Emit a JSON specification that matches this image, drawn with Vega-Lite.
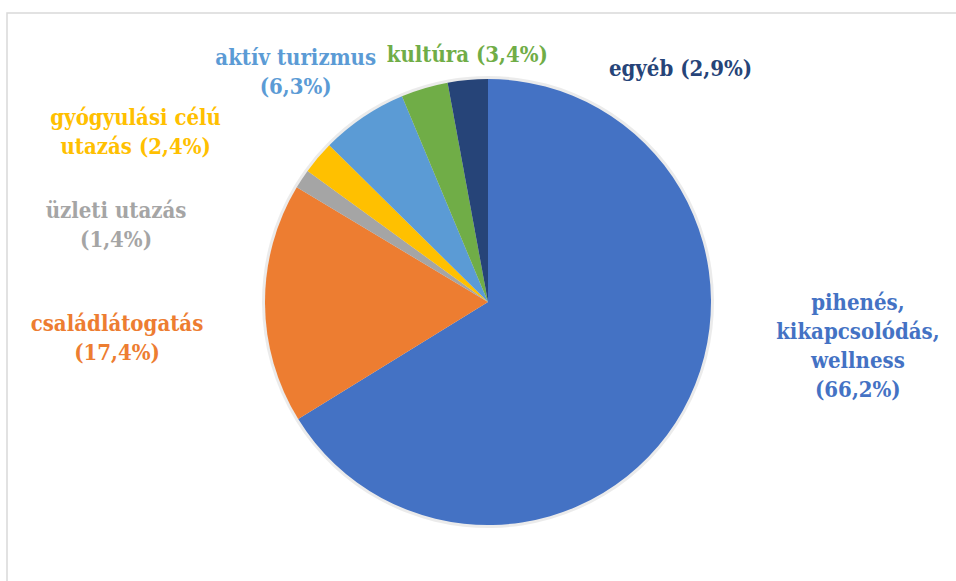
{
  "$schema": "https://vega.github.io/schema/vega-lite/v6.json",
  "width": 962,
  "height": 578,
  "autosize": {"type": "none"},
  "padding": {"left": 7, "top": 13, "right": 0, "bottom": 0},
  "background": "white",
  "view": {"stroke": "#d9d9d9", "strokeWidth": 1.5, "fill": "white"},
  "config": {"text": {"font": "DejaVu Serif Condensed", "fontWeight": "bold", "fontSize": 22, "lineHeight": 29, "lineBreak": "\n", "align": "center", "baseline": "middle"}},
  "data": {"values": [
    {"idx": 1, "cat": "pihenés, kikapcsolódás, wellness", "value": 66.2, "label": "pihenés,\nkikapcsolódás,\nwellness\n(66,2%)"},
    {"idx": 2, "cat": "családlátogatás", "value": 17.4, "label": "családlátogatás\n(17,4%)"},
    {"idx": 3, "cat": "üzleti utazás", "value": 1.4, "label": "üzleti utazás\n(1,4%)"},
    {"idx": 4, "cat": "gyógyulási célú utazás", "value": 2.4, "label": "gyógyulási célú\nutazás (2,4%)"},
    {"idx": 5, "cat": "aktív turizmus", "value": 6.3, "label": "aktív turizmus\n(6,3%)"},
    {"idx": 6, "cat": "kultúra", "value": 3.4, "label": "kultúra (3,4%)"},
    {"idx": 7, "cat": "egyéb", "value": 2.9, "label": "egyéb (2,9%)"}
  ]},
  "encoding": {
    "theta": {"field": "value", "type": "quantitative", "stack": true},
    "order": {"field": "idx", "type": "ordinal"},
    "color": {"field": "cat", "type": "nominal", "legend": null,
      "scale": {"domain": ["pihenés, kikapcsolódás, wellness", "családlátogatás", "üzleti utazás", "gyógyulási célú utazás", "aktív turizmus", "kultúra", "egyéb"],
                "range": ["#4472C4", "#ED7D31", "#A5A5A5", "#FFC000", "#5B9BD5", "#70AD47", "#264478"]}}
  },
  "layer": [
    {"mark": {"type": "arc", "radius": 226, "fill": "#000000", "fillOpacity": 0.08}},
    {"mark": {"type": "arc", "radius": 223}},
    {"mark": {"type": "text", "radius": 372, "dx": 45, "dy": -180},
     "encoding": {"text": {"condition": {"test": "datum.idx === 1", "field": "label"}, "value": ""}}},
    {"mark": {"type": "text", "radius": 372, "dx": 1, "dy": 20},
     "encoding": {"text": {"condition": {"test": "datum.idx === 2", "field": "label"}, "value": ""}}},
    {"mark": {"type": "text", "radius": 380, "dx": -55, "dy": 119},
     "encoding": {"text": {"condition": {"test": "datum.idx === 3", "field": "label"}, "value": ""}}},
    {"mark": {"type": "text", "radius": 390, "dx": -55, "dy": 68},
     "encoding": {"text": {"condition": {"test": "datum.idx === 4", "field": "label"}, "value": ""}}},
    {"mark": {"type": "text", "radius": 299, "dx": -25, "dy": 4},
     "encoding": {"text": {"condition": {"test": "datum.idx === 5", "field": "label"}, "value": ""}}},
    {"mark": {"type": "text", "radius": 248, "dx": 50, "dy": -9},
     "encoding": {"text": {"condition": {"test": "datum.idx === 6", "field": "label"}, "value": ""}}},
    {"mark": {"type": "text", "radius": 302, "dx": 220, "dy": 68},
     "encoding": {"text": {"condition": {"test": "datum.idx === 7", "field": "label"}, "value": ""}}}
  ]
}
